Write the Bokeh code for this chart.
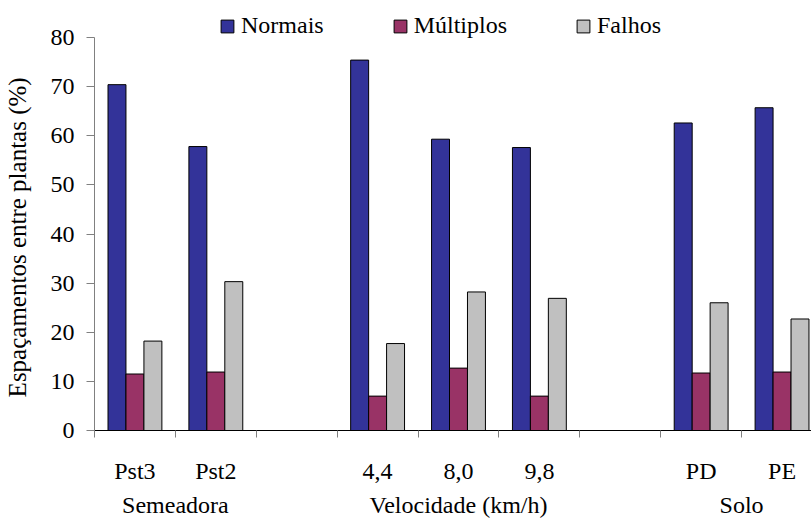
from bokeh.plotting import figure
from bokeh.models import (Range1d, FixedTicker, Legend, LegendItem,
                          ColumnDataSource, LinearAxis)
from bokeh.transform import dodge
from bokeh.embed import file_html
from bokeh.resources import INLINE

# Spacing between plants (%) by seeder, speed and soil
categories = ["Pst3", "Pst2", "4,4", "8,0", "9,8", "PD", "PE"]
slots = [0, 1, 3, 4, 5, 7, 8]          # empty slots 2 and 6 separate the groups
normais = [70.4, 57.8, 75.4, 59.3, 57.6, 62.6, 65.7]
multiplos = [11.5, 11.9, 7.0, 12.7, 7.0, 11.7, 11.9]
falhos = [18.2, 30.3, 17.7, 28.2, 26.9, 26.0, 22.7]
series_names = ["Normais", "Múltiplos", "Falhos"]
groups = ["Semeadora", "Velocidade (km/h)", "Solo"]
group_slots = [(0, 1), (3, 5), (7, 8)]
y_ticks = [0, 10, 20, 30, 40, 50, 60, 70, 80]
y_max = 80
y_title = "Espaçamentos entre plantas (%)"

FONT = "Liberation Serif"
SIZE = "24px"
colors = ["#333399", "#993366", "#C0C0C0"]
bar_w = 0.222

FRAME_H = 430          # plot area height in px; top 37 px hold the legend
centers = [s + 0.5 for s in slots]
src = ColumnDataSource(dict(x=centers, normais=normais,
                            multiplos=multiplos, falhos=falhos))

p = figure(width=811, height=520, output_backend="svg", toolbar_location=None,
           x_range=Range1d(0, 718 / 81),
           y_range=Range1d(0, y_max * FRAME_H / (FRAME_H - 37)),
           min_border_left=93, min_border_right=0, min_border_top=0,
           min_border_bottom=520 - FRAME_H)
p.outline_line_color = None
p.xgrid.visible = False
p.ygrid.visible = False

renderers = []
for k, (col, c) in enumerate(zip(["normais", "multiplos", "falhos"], colors)):
    r = p.vbar(x=dodge("x", (k - 1) * bar_w), top=col, width=bar_w, bottom=0,
               source=src, fill_color=c, line_color="black", line_width=1)
    renderers.append(r)

# x axis: short ticks on slot boundaries, category names at slot centres
xa = p.xaxis[0]
xa.ticker = FixedTicker(ticks=centers, minor_ticks=list(range(0, 10)))
xa.major_label_overrides = {c: n for c, n in zip(centers, categories)}
xa.major_tick_out = 0
xa.major_tick_in = 0
xa.major_tick_line_color = None
xa.minor_tick_out = 7
xa.minor_tick_in = 0
xa.minor_tick_line_color = "#808080"
xa.axis_line_color = "black"
xa.major_label_text_font = FONT
xa.major_label_text_font_size = SIZE
xa.major_label_text_color = "black"
xa.major_label_standoff = 20

# second row: group captions centred under each group of categories
group_x = [(a + b + 1) / 2 for a, b in group_slots]
ga = LinearAxis(ticker=FixedTicker(ticks=group_x, minor_ticks=[]),
                major_label_overrides={x: g for x, g in zip(group_x, groups)},
                axis_line_color=None, major_tick_line_color=None,
                minor_tick_line_color=None, major_tick_out=0, major_tick_in=0,
                major_label_standoff=5, major_label_text_font=FONT,
                major_label_text_font_size=SIZE,
                major_label_text_color="black")
p.add_layout(ga, "below")

ya = p.yaxis[0]
ya.bounds = (0, y_max)
ya.ticker = FixedTicker(ticks=y_ticks)
ya.minor_tick_line_color = None
ya.major_tick_out = 8
ya.major_tick_in = 0
ya.major_tick_line_color = "#808080"
ya.axis_line_color = "#808080"
ya.major_label_text_font = FONT
ya.major_label_text_font_size = SIZE
ya.major_label_text_color = "black"
ya.major_label_standoff = 12
# trailing no-break spaces keep the title centred on the 0-80 span
ya.axis_label = y_title + "\u00a0" * 7
ya.axis_label_text_font = FONT
ya.axis_label_text_font_size = "25px"
ya.axis_label_text_font_style = "normal"
ya.axis_label_text_color = "black"
ya.axis_label_standoff = 17

legend = Legend(items=[LegendItem(label=n, renderers=[r])
                       for n, r in zip(series_names, renderers)],
                orientation="horizontal", location=(125, FRAME_H - 39),
                glyph_width=16, glyph_height=16, label_standoff=6,
                spacing=68, padding=0, margin=0,
                label_text_font=FONT, label_text_font_size=SIZE,
                label_text_color="black",
                border_line_color=None, background_fill_alpha=0)
p.add_layout(legend, "center")

open("out.html", "w").write(file_html(p, INLINE))
